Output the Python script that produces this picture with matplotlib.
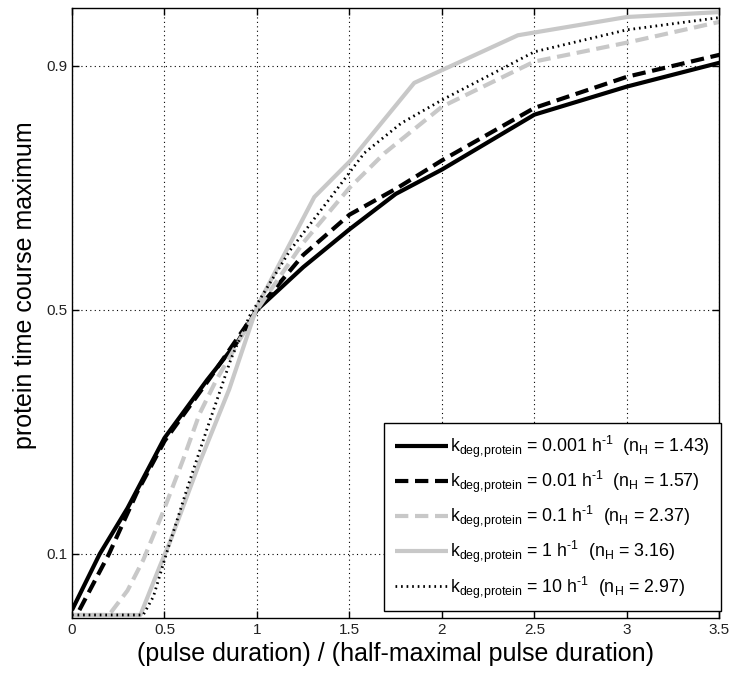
import numpy as np
import matplotlib
matplotlib.use("Agg")
import matplotlib.pyplot as plt

plt.rcParams['font.family'] = ['Liberation Sans', 'DejaVu Sans']
plt.rcParams['mathtext.fontset'] = 'custom'
plt.rcParams['mathtext.rm'] = 'Liberation Sans'
plt.rcParams['mathtext.it'] = 'Liberation Sans'

# curves: x = pulse duration / half-maximal pulse duration
x_001 = [0, 0.15, 0.3, 0.5, 0.73, 0.9, 1.0, 1.25, 1.5, 1.75, 2.0, 2.5, 3.0, 3.5]
y_001 = [0.008, 0.10, 0.175, 0.29, 0.385, 0.45, 0.5, 0.57, 0.632, 0.69, 0.73, 0.82, 0.866, 0.905]

x_01 = [0.04, 0.2, 0.35, 0.5, 0.75, 1.0, 1.25, 1.5, 1.76, 2.0, 2.5, 3.0, 3.5]
y_01 = [0.008, 0.10, 0.2, 0.285, 0.39, 0.5, 0.59, 0.656, 0.70, 0.745, 0.831, 0.882, 0.918]

x_1 = [0, 0.2, 0.3, 0.385, 0.49, 0.6, 0.69, 0.78, 1.0, 1.25, 1.5, 1.69, 2.0, 2.5, 3.0, 3.5]
y_1 = [0, 0, 0.04, 0.09, 0.167, 0.254, 0.33, 0.385, 0.50, 0.61, 0.70, 0.757, 0.833, 0.907, 0.938, 0.972]

x_10 = [0, 0.37, 0.475, 0.53, 0.69, 0.85, 1.0, 1.31, 1.51, 1.85, 2.41, 3.0, 3.5]
y_10 = [0, 0, 0.08, 0.12, 0.25, 0.37, 0.505, 0.685, 0.746, 0.872, 0.95, 0.98, 0.988]

x_100 = [0, 0.385, 0.44, 0.51, 0.62, 0.73, 0.86, 0.96, 1.18, 1.40, 1.58, 1.78, 2.0, 2.5, 3.0, 3.5]
y_100 = [0, 0, 0.03, 0.10, 0.205, 0.305, 0.42, 0.49, 0.598, 0.685, 0.757, 0.806, 0.844, 0.923, 0.959, 0.979]

k_deg = ['0.001', '0.01', '0.1', '1', '10']
n_H = ['1.43', '1.57', '2.37', '3.16', '2.97']

xticks = [0, 0.5, 1, 1.5, 2, 2.5, 3, 3.5]
xticklabels = ['0', '0.5', '1', '1.5', '2', '2.5', '3', '3.5']
yticks = [0.1, 0.5, 0.9]

grey = '#c8c8c8'
styles = [
    dict(color='black', lw=3.0, ls='-'),
    dict(color='black', lw=3.0, ls=(0, (3.2, 1.6))),
    dict(color=grey, lw=3.0, ls=(0, (3.2, 1.6))),
    dict(color=grey, lw=3.0, ls='-'),
    dict(color='black', lw=2.0, ls=(0, (0.6, 1.4))),
]

fig = plt.figure(figsize=(7.3, 6.75), dpi=100)
ax = fig.add_axes([0.0986, 0.0844, 0.887, 0.904])

curves = [(x_001, y_001), (x_01, y_01), (x_1, y_1), (x_10, y_10), (x_100, y_100)]
for (xs, ys), st, k, n in zip(curves, styles, k_deg, n_H):
    lab = (r'k$_{\mathregular{deg{,}protein}}$ = ' + k + ' h$^{\\mathregular{\u20101}}$  (n$_{\\mathregular{H}}$ = ' + n + ')')
    ax.plot(xs, ys, label=lab, solid_capstyle='butt', dash_capstyle='butt', **st)

ax.set_xlim(0, 3.5)
ax.set_ylim(-0.005, 0.995)
ax.set_xticks(xticks)
ax.set_xticklabels(xticklabels)
ax.set_yticks(yticks)
ax.set_yticklabels(['0.1', '0.5', '0.9'])
ax.tick_params(direction='in', top=True, right=True, labelsize=11, labelcolor='#222222',
               length=5, width=1)
ax.grid(True, color='black', linestyle=(0, (1, 3)), linewidth=0.8)
for s in ax.spines.values():
    s.set_linewidth(1.0)

ax.set_xlabel('(pulse duration) / (half-maximal pulse duration)', fontsize=18, labelpad=4)
ax.set_ylabel('protein time course maximum', fontsize=18)
ax.yaxis.set_label_coords(-0.054, 0.545)

leg = ax.legend(loc='lower right', bbox_to_anchor=(1.002, 0.011), borderaxespad=0,
                fontsize=12.8, handlelength=3.0, handletextpad=0.12, labelspacing=0.5,
                fancybox=False, framealpha=1, edgecolor='black', borderpad=0.6)
leg.get_frame().set_linewidth(1.0)

fig.savefig('out.png', dpi=100)
